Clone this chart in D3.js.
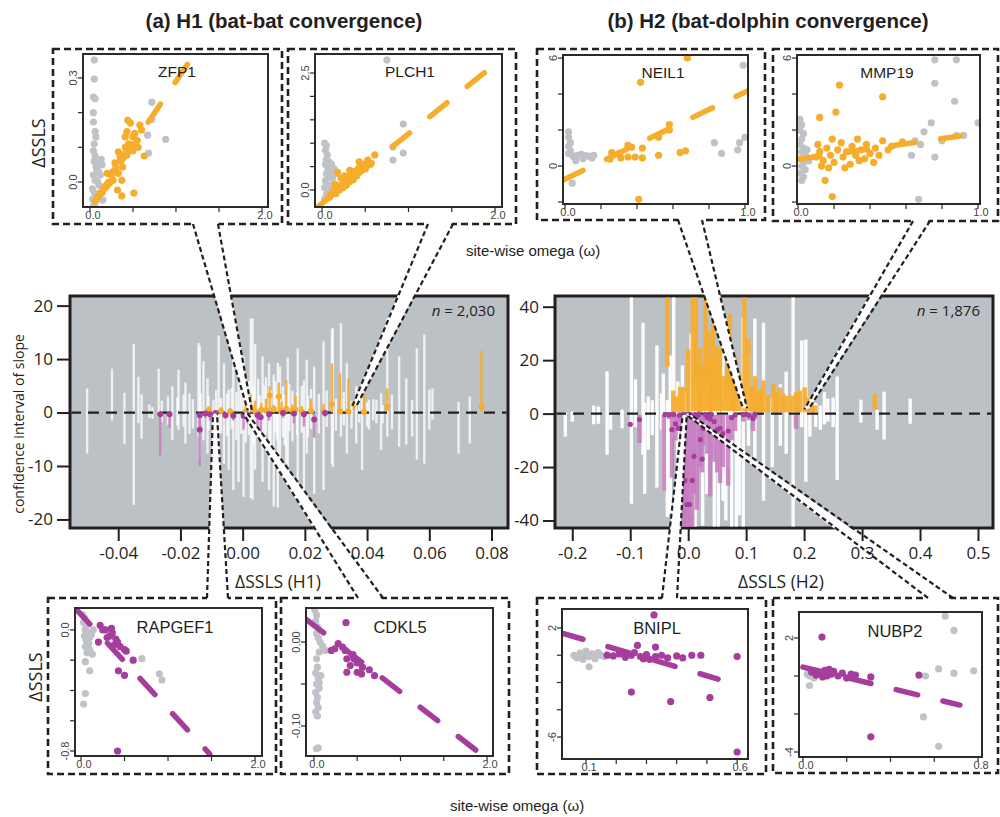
<!DOCTYPE html>
<html>
<head>
<meta charset="utf-8">
<script src="https://cdn.jsdelivr.net/npm/d3@7"></script>
<style>
  body { margin: 0; background: #fff; }
  svg { display: block; }
</style>
</head>
<body>
<svg id="viz" width="1000" height="817"></svg>
<script>
// ---------- main panels: [ΔSSLS, CI low, CI high] and coloured ones [ΔSSLS, low, high, slope] ----------
var h1White = [
  [-0.050,-7.7,4.5],[-0.042,-1.5,8.2],[-0.038,-5.9,3.7],[-0.035,-17.3,12.8],[-0.0335,-2,6.7],
  [-0.0325,-4.9,3.4],[-0.030,-1,1.5],[-0.027,-0.8,8.2],[-0.024,-2.3,3],[-0.0226,-5.1,4.9],
  [-0.0206,-3.2,8],[-0.0184,-5.8,5.6],[-0.0171,-4,3.6],[-0.0142,-4.5,13],[-0.0138,-8.5,12.5],
  [-0.0126,-5.2,9.6],[-0.0113,-7.7,6.4],[-0.0094,-13,2.4],[-0.0077,-11.5,14.4],[-0.006,-9.6,9.2],
  [-0.0045,-10.7,4.3],[-0.003,-14.5,14.4],[-0.0013,-13,6.2],[0.0003,-15.8,10.5],[0.0026,-16,17.6],
  [0.0032,-16.3,17.6],[0.004,-10.7,12.8],[0.0064,-13,10.5],[0.0085,-14.5,9.2],[0.010,-17.6,7.1],
  [0.0113,-17.8,9.3],[0.012,-10.7,8.6],[0.014,-9.6,5.4],[0.0145,-10.3,10.3],[0.0177,-12.8,12],
  [0.0197,-15.2,6],[0.0206,-7.7,9.9],[0.023,-15.2,8.6],[0.026,-14.5,13.3],[0.0287,-9.6,15.6],
  [0.029,-10.2,15.8],[0.0316,-4.5,16.7],[0.0335,-7.7,9.2],[0.0365,-5.8,4.9],[0.0384,-10.7,5.4],
  [0.0406,-3.2,2.4],[0.043,-2,2.4],[0.0445,-7,3.6],[0.0465,-4.5,17.6],[0.048,-3.2,3.4],
  [0.0503,-6.4,10.5],[0.0526,-6,6.4],[0.0545,-4.5,2.4],[0.056,-8.8,12],[0.0584,-9.6,14.6],
  [0.060,-3.2,4.3],[0.061,-1.3,4.5],[0.0694,-7.7,2],[0.073,-5.8,3],
  [-0.029,-1.2,1.0],[-0.026,-1.8,2.2],[-0.021,-2.4,2.8],[-0.019,-2.6,3.4],[-0.016,-3,2.5],
  [-0.0135,-2.2,3.6],[-0.011,-3.4,3.1],[-0.0085,-2.8,4.2],[-0.007,-3.9,2.7],[-0.005,-4.4,3.5],
  [-0.0035,-3.1,4.6],[-0.002,-5.2,3.8],[-0.0005,-4,5.4],[0.001,-5.6,4.4],[0.002,-4.2,5.9],
  [0.0035,-6.2,4.8],[0.005,-4.9,6.3],[0.0055,-3.6,3.2],[0.007,-5.8,5.1],[0.0075,-4.1,6.6],
  [0.009,-6.5,4.2],[0.0105,-3.8,5.8],[0.011,-5.2,3.6],[0.013,-4.6,4.9],[0.0135,-6.1,3.3],
  [0.015,-3.5,5.4],[0.016,-5.4,4.1],[0.0175,-4.2,3.7],[0.019,-3.8,5.0],[0.021,-4.6,3.2],
  [0.022,-3.1,4.4],[0.0245,-3.9,3.5],[0.027,-2.7,4.1],[0.030,-3.4,2.6],[0.0325,-2.4,3.8],
  [0.035,-3.0,2.2],[0.0375,-1.9,2.8],[0.040,-2.6,1.9],[0.042,-1.5,2.5],[0.045,-2.0,1.4]
];
var h1Pos = [
  [0.0768,0.2,11.6,1.1],[0.0465,0.3,4.5,1.1],[0.039,0,3.6,0.1],[0.0358,0.5,2.2,1.5],
  [0.034,0,6.4,0.2],[0.0313,0,7.3,0.2],[0.0287,0,9.2,1.5],[0.026,0,1.6,0.2],[0.022,0,2.6,0.3],
  [0.017,0,3.2,0.5],[0.014,0,6,0.7],[0.0116,0,5.6,3],[0.0087,0,4.9,3.2],[0.0026,0,3.4,1],
  [-0.011,0,1.2,0.4],[0.004,0,2.2,0.3],[0.006,0,1.8,0.5],[0.0075,0,2.6,0.4],[0.010,0,1.4,0.6],
  [0.0125,0,2.0,0.3],[0.016,0,1.5,0.4],[0.019,0,1.2,0.2],[0.001,0,1.5,0.2],[-0.004,0,0.8,0.2],
  [-0.007,0,1.0,0.3]
];
var h1Neg = [
  [-0.0265,-8,0,-0.3],[-0.0235,-2.8,0,-0.3],[-0.0138,-10,-0.2,-0.5],[-0.0138,-3.5,-0.2,-3.2],
  [-0.0087,-4.5,0,-0.1],[-0.0055,-1.2,0,-0.5],[-0.003,-1.5,0,-0.6],[0.0003,-3.2,0,-0.6],
  [0.0015,-2.0,0,-0.4],[0.0048,-2.5,0,-0.5],[0.0058,-5,0,-0.9],[0.0085,-1.5,0,-0.3],
  [0.013,-1,0,-0.1],[0.0165,-2,0,-0.2],[0.0197,-2.6,0,-0.3],[0.023,-4.7,0,-1.3],
  [0.0265,-0.8,0,-0.1],[-0.012,-1.0,0,-0.2],[-0.0105,-1.5,0,-0.3]
];
var h1XTicks = [-0.04,-0.02,0,0.02,0.04,0.06,0.08];
var h1YTicks = [-20,-10,0,10,20];

var h2White = [
  [-0.212,-8.6,0.5],[-0.2,-3,0.8],[-0.163,-4,3],[-0.155,-3.8,2.6],[-0.14,-15.4,15.8],
  [-0.134,-6,0.6],[-0.114,-5.5,1.5],[-0.098,-33.7,45],[-0.091,-5,12.8],[-0.078,-15.4,34],
  [-0.075,-30,4],[-0.069,-13.5,6.4],[-0.062,-8,5],[-0.054,-27.7,25.5],[-0.046,-6,7.5],
  [-0.043,-29,15],[-0.036,-38.6,5],[-0.031,-37.6,21.7],[-0.025,-9,45],[-0.018,-20,12],
  [-0.01,-30,18],[-0.005,-14,8],[0.005,-38,30],[0.012,-45,12],[0.025,-42,8],[0.032,-30,12],
  [0.045,-45,6],[0.052,-45,3],[0.06,-32.6,24.7],[0.065,-40,5],[0.07,-20,10],[0.075,-45,2],
  [0.083,-45,4],[0.088,-38,6],[0.095,-45,36],[0.104,-12,22],[0.115,-16.5,35.6],[0.13,-32.6,34],
  [0.145,-20,6],[0.159,-12,11],[0.169,-15,15.7],[0.181,-45,45],[0.196,-5,27.4],
  [0.203,-25.5,27.7],[0.21,-8.6,6.4],[0.22,-5,4],[0.228,-6,3],[0.235,-4,8],[0.241,-3,5.6],
  [0.25,-5,6],[0.257,-24.8,13.9],[0.298,-3.4,5.2],[0.326,-6,1.5],[0.338,-9.7,8.2],[0.383,-3.8,5.6]
];
var h2Pos = [
  [-0.036,18.5,45,18.5],[-0.026,0.5,8.6],[-0.02,0.5,6.4],[-0.014,0.5,10],[-0.008,0.5,10],
  [0.0,0.8,24],[0.008,1,45],[0.013,1,45],[0.018,1,18.7],[0.021,0.5,24.7],[0.026,1,18],
  [0.03,1,45],[0.035,1,31],[0.039,1,20],[0.043,1,38.6],[0.048,1,25],[0.055,1,24.7],
  [0.06,1,14],[0.067,1,18.7],[0.072,1,37.5],[0.078,1,15],[0.081,1,21],[0.088,1,15],
  [0.097,1,45],[0.104,1,28],[0.11,1,10],[0.115,0.5,14],[0.119,0.5,8.6],[0.125,0.5,9],
  [0.13,0.5,12.4],[0.138,0.5,7],[0.147,0.5,11],[0.153,0.5,8],[0.158,0.5,9.8],
  [0.164,0.5,7.5],[0.17,0.5,6.7],[0.179,0.5,6.7],[0.186,0.5,8],[0.193,0.5,8.6],
  [0.201,0.5,9.8],[0.207,0.5,6],[0.213,0.5,6.7],[0.219,0.5,3],[0.322,1.5,7.5]
];
var h2Neg = [
  [-0.1,-4.5,-3.5,-4],[-0.084,-11,-0.5,-2.2],[-0.042,-29,-0.5],[-0.028,-24,-0.5,-6],
  [-0.022,-10,-0.5,-3.8],[-0.017,-6.5,-0.5,-5.5],[-0.01,-45,-0.5,-17],[-0.006,-45,-0.5,-25],
  [-0.002,-45,-0.5,-34],[0.002,-45,-0.5,-34],[0.007,-45,-0.5,-25],[0.01,-30,-0.5,-16],
  [0.015,-36,-0.5,-1],[0.021,-20,-0.5,-9.7],[0.024,-22,-0.5,-17],[0.026,-12,-0.5,-5.5],
  [0.033,-15,-0.5,-1.5],[0.038,-31,-0.5,-2],[0.045,-18,-0.5,-3],[0.05,-22,-0.5,-6],
  [0.055,-26,-0.5,-5.5],[0.06,-20,-0.5,-7.5],[0.069,-27,-0.5,-6.5],[0.075,-10,-0.5,-1.5],
  [0.081,-6.5,-0.5,-0.5],[0.095,-3,-0.5,-0.3],[0.112,-6.5,-0.5,-1.8],[0.115,-2,-0.5,-0.3],
  [0.186,-5.7,-0.5],
  [-0.04,-1.2,-0.3,-0.4],[-0.033,-2,-0.3,-0.5],[-0.025,-1.5,-0.3,-0.3],[-0.015,-3,-0.3,-0.6],
  [-0.008,-2,-0.3,-0.4],[0.0,-2.5,-0.3,-0.3],[0.005,-1.8,-0.3,-0.5],[0.012,-2.2,-0.3,-0.4],
  [0.018,-1.5,-0.3,-0.3],[0.03,-2,-0.3,-0.4],[0.04,-1.2,-0.3,-0.3],[0.1,-1.0,-0.3,-0.2],
  [0.105,-2.5,-0.3,-0.6]
];
var h2XTicks = [-0.2,-0.1,0,0.1,0.2,0.3,0.4,0.5];
var h2YTicks = [-40,-20,0,20,40];

// ---------- insets: site-wise omega vs ΔSSLS ----------
var zfp1Bg = [[0.05,0.352],[0.05,0.297],[0.04,0.245],[0.06,0.24],[0.04,0.2],[0.04,0.173],[0.06,0.145],
  [0.07,0.13],[0.05,0.11],[0.04,0.09],[0.06,0.075],[0.05,0.06],[0.07,0.045],[0.08,0.035],[0.1,0.03],
  [0.12,0.02],[0.04,0.02],[0.06,0.005],[0.09,0.0],[0.11,-0.01],[0.03,-0.02],[0.05,-0.03],[0.08,-0.04],
  [0.03,-0.05],[0.06,-0.06],[0.04,-0.07],[0.15,-0.052],[0.72,0.23],[0.72,0.18],[0.67,0.135],
  [0.88,0.123],[0.68,0.083],[0.14,0.05],[0.13,0.065],[0.1,0.055]];
var zfp1Sig = [[0.44,0.178],[0.43,0.145],[0.47,0.17],[0.58,0.164],[0.6,0.15],[0.55,0.12],[0.41,0.1],
  [0.35,0.073],[0.63,0.075],[0.27,0.03],[0.2,0.025],[0.23,-0.002],[0.37,0.005],[0.32,-0.023],
  [0.37,-0.04],[0.51,-0.032],[0.12,-0.033],[0.29,0.055],[0.33,0.087],[0.41,0.13],[0.47,0.1],
  [0.43,0.078],[0.38,0.043],[0.33,0.025],[0.27,0.005],[0.2,-0.01],[0.16,-0.02],[0.1,-0.04],
  [0.5,0.09],[0.56,0.1],[0.08,-0.05],[0.14,-0.03],[0.18,-0.015],[0.22,0.0],[0.25,0.02],[0.3,0.04],
  [0.35,0.06],[0.4,0.08],[0.45,0.11],[0.5,0.13],[0.52,0.14]];
var zfp1Fit = [[0.05,-0.057],[1.16,0.349]];

var plch1Bg = [[0.75,2.78],[0.94,1.41],[0.82,0.92],[0.94,0.79],[0.82,0.64],[0.03,1.0],[0.05,0.95],
  [0.04,0.85],[0.06,0.75],[0.05,0.65],[0.08,0.6],[0.04,0.55],[0.07,0.45],[0.1,0.4],[0.05,0.35],
  [0.09,0.3],[0.12,0.25],[0.04,0.2],[0.06,0.12],[0.1,0.1],[0.03,0.05],[0.07,-0.02],[0.05,-0.1],
  [0.09,-0.15],[0.03,-0.2],[0.11,0.55],[0.14,0.45],[0.16,0.35]];
var plch1Sig = [[0.08,-0.15],[0.1,-0.1],[0.12,-0.05],[0.14,0.0],[0.16,-0.08],[0.18,0.05],[0.2,0.0],
  [0.22,0.1],[0.24,0.05],[0.25,0.15],[0.27,0.2],[0.28,0.1],[0.3,0.25],[0.32,0.18],[0.33,0.3],
  [0.35,0.35],[0.36,0.22],[0.38,0.4],[0.4,0.3],[0.42,0.45],[0.43,0.6],[0.45,0.5],[0.48,0.55],
  [0.5,0.45],[0.53,0.64],[0.56,0.55],[0.61,0.75],[0.18,0.38],[0.32,0.42],[0.15,0.12],[0.22,0.25],
  [0.26,0.3]];
var plch1Fit = [[-0.05,-0.36],[1.94,2.6]];

var neil1Bg = [[0.02,1.9],[0.02,1.6],[0.03,1.3],[0.02,1.1],[0.03,0.85],[0.04,0.6],[0.02,0.7],[0.05,0.5],
  [0.07,0.6],[0.09,0.65],[0.11,0.6],[0.13,0.55],[0.15,0.45],[0.16,0.6],[0.04,-0.95],[0.83,1.3],
  [0.87,0.7],[0.97,1.3],[1.0,1.6],[0.96,0.9],[0.99,5.6],[0.06,0.3],[0.1,0.4]];
var neil1Sig = [[0.68,6.0],[0.42,4.65],[0.41,-1.85],[0.26,0.74],[0.25,0.38],[0.3,0.7],[0.35,1.15],
  [0.37,1.05],[0.35,0.5],[0.43,1.0],[0.43,0.45],[0.52,1.6],[0.52,0.6],[0.58,2.3],[0.58,2.0],
  [0.64,0.75],[0.67,0.85],[0.31,0.45],[0.39,0.5]];
var neil1Fit = [[-0.01,-0.78],[1.02,4.2]];

var mmp19Bg = [[0.01,2.6],[0.02,2.3],[0.01,2.0],[0.03,1.8],[0.02,1.5],[0.01,1.2],[0.03,1.0],[0.02,0.8],
  [0.04,0.6],[0.01,0.4],[0.03,0.2],[0.02,0.0],[0.04,-0.2],[0.01,-0.4],[0.03,-0.6],[0.02,-0.8],
  [0.05,0.9],[0.06,0.3],[0.76,5.9],[0.88,5.9],[0.76,4.6],[0.87,3.6],[1.0,2.4],[0.92,1.7],[0.88,1.7],
  [0.8,1.4],[0.74,2.4],[0.7,1.9],[0.63,0.6],[0.76,0.5],[0.67,-1.85],[0.65,1.4],[0.68,1.2]];
var mmp19Sig = [[0.23,4.5],[0.47,3.85],[0.12,2.7],[0.21,3.0],[0.15,-0.8],[0.19,-1.7],[0.58,1.35],
  [0.1,0.5],[0.12,0.8],[0.14,0.3],[0.16,1.0],[0.18,0.6],[0.19,1.5],[0.2,0.2],[0.22,0.9],[0.24,1.3],
  [0.25,0.5],[0.27,0.8],[0.29,0.1],[0.3,1.1],[0.32,0.6],[0.33,1.5],[0.35,0.9],[0.37,0.4],[0.38,1.2],
  [0.4,0.7],[0.42,0.2],[0.43,1.0],[0.45,0.6],[0.47,1.4],[0.5,0.9],[0.52,1.1],[0.11,1.2],[0.13,0.0],
  [0.17,-0.1],[0.26,-0.1],[0.34,0.3]];
var mmp19Fit = [[0.0,0.38],[0.9,1.67]];

var rapgef1Bg = [[0.02,0.1],[0.04,0.08],[0.03,0.05],[0.06,0.03],[0.05,0.0],[0.08,-0.02],[0.04,-0.04],
  [0.1,-0.05],[0.06,-0.07],[0.09,-0.09],[0.05,-0.11],[0.1,-0.13],[0.07,-0.15],[0.12,-0.03],[0.14,0.0],
  [0.05,-0.21],[0.1,-0.27],[0.05,-0.42],[0.03,-0.49],[0.7,-0.19],[0.9,-0.29],[0.93,-0.33],[0.13,-0.16]];
var rapgef1Sig = [[0.22,0.03],[0.25,0.0],[0.33,-0.04],[0.36,-0.02],[0.4,-0.06],[0.42,-0.08],[0.5,-0.13],
  [0.52,-0.14],[0.6,-0.2],[0.43,-0.27],[0.5,-0.3],[0.42,-0.8],[0.2,-0.08],[0.38,-0.1],[0.3,-0.05],
  [0.45,-0.11],[0.28,0.0],[0.35,0.01]];
var rapgef1Fit = [[-0.07,0.146],[1.48,-0.82]];

var cdkl5Bg = [[0.01,0.038],[0.03,0.032],[0.02,0.025],[0.04,0.018],[0.03,0.01],[0.05,0.005],[0.07,0.0],
  [0.1,-0.005],[0.13,-0.01],[0.06,-0.012],[0.03,-0.02],[0.04,-0.03],[0.02,-0.037],[0.05,-0.043],
  [0.03,-0.05],[0.06,-0.055],[0.02,-0.06],[0.04,-0.066],[0.03,-0.072],[0.05,-0.078],[0.02,-0.083],
  [0.04,-0.088],[0.06,-0.048],[0.08,-0.04],[0.03,-0.127],[0.05,-0.126]];
var cdkl5Sig = [[0.37,0.023],[0.2,-0.01],[0.28,-0.002],[0.36,-0.01],[0.38,-0.02],[0.45,-0.015],
  [0.5,-0.025],[0.38,-0.036],[0.5,-0.036],[0.56,-0.03],[0.64,-0.033],[0.7,-0.04],[0.42,-0.028],
  [0.33,-0.006],[0.46,-0.02],[0.55,-0.038],[0.24,-0.008]];
var cdkl5Fit = [[-0.09,0.027],[1.9,-0.131]];

var bniplBg = [[0.06,0.0],[0.07,-0.2],[0.08,0.15],[0.09,0.0],[0.1,0.3],[0.11,-0.1],[0.12,0.1],
  [0.13,-0.25],[0.14,0.2],[0.15,0.0],[0.16,-0.1],[0.17,0.05],[0.11,-0.85],[0.1,0.15],[0.09,-0.3]];
var bniplSig = [[0.325,2.96],[0.27,0.72],[0.33,0.6],[0.17,0.0],[0.19,-0.05],[0.21,0.1],[0.23,-0.15],
  [0.25,0.0],[0.26,0.2],[0.28,-0.1],[0.3,0.05],[0.31,-0.3],[0.33,-0.1],[0.35,0.0],[0.37,-0.2],
  [0.4,-0.05],[0.42,-0.2],[0.45,0.0],[0.48,0.0],[0.6,-0.1],[0.25,-2.7],[0.38,-3.4],[0.51,-3.1],
  [0.6,-7.1],[0.22,0.15],[0.29,-0.25]];
var bniplFit = [[0.02,1.63],[0.537,-1.75]];

var nubp2Bg = [[0.65,3.15],[0.69,2.4],[0.62,0.37],[0.69,0.15],[0.78,0.27],[0.56,0.0],[0.55,-2.15],
  [0.62,-3.7],[0.03,-0.5],[0.02,0.1],[0.04,0.3],[0.03,0.0],[0.06,0.2],[0.05,-0.1]];
var nubp2Sig = [[0.087,2.05],[0.31,-0.05],[0.31,-3.2],[0.53,0.05],[0.04,0.2],[0.06,0.05],[0.08,0.15],
  [0.1,0.3],[0.11,0.0],[0.13,0.1],[0.14,0.25],[0.16,0.0],[0.18,0.15],[0.2,-0.1],[0.22,0.1],
  [0.24,0.05],[0.12,0.35],[0.09,-0.05]];
var nubp2Fit = [[0.0,0.47],[0.717,-1.53]];

// ---------- styles ----------
var ORANGE = "#f6ad2c", PURPLE = "#a63d9c", PURPLE_BAR = "#c67bbf",
    GREY_PT = "#bfc3c8", PANEL_BG = "#bcc1c6", INK = "#231f20";
var SANS = "'Open Sans', sans-serif", ARIAL = "'Liberation Sans', Arial, sans-serif";

var svg = d3.select("#viz");
var defs = svg.append("defs");
var layerBg = svg.append("g");
var layerData = svg.append("g");
var layerBox = svg.append("g");
var layerCone = svg.append("g");
var layerTop = svg.append("g");

// ---------- main panels ----------
var panels = [
  {id:"h1", x0:70, x1:508, y0:296, y1:528, xdom:[-0.0555,0.0853], ydom:[-21.6,21.8],
   white:h1White, pos:h1Pos, neg:h1Neg, xticks:h1XTicks, yticks:h1YTicks, dec:2,
   n:"2,030", label:"ΔSSLS (H1)", labelX:278, barW:2.4, colW:2.4, whiteOp:0.75, r:3, tick:13},
  {id:"h2", x0:555, x1:993, y0:296, y1:528, xdom:[-0.2298,0.5259], ydom:[-42.8,44],
   white:h2White, pos:h2Pos, neg:h2Neg, xticks:h2XTicks, yticks:h2YTicks, dec:1,
   n:"1,876", label:"ΔSSLS (H2)", labelX:781, barW:3.4, colW:4.4, whiteOp:0.95, r:2.6, tick:12}
];

panels.forEach(function(p){
  p.xs = d3.scaleLinear().domain(p.xdom).range([p.x0, p.x1]);
  p.ys = d3.scaleLinear().domain(p.ydom).range([p.y1, p.y0]);

  layerBg.append("rect")
    .attr("x", p.x0).attr("y", p.y0)
    .attr("width", p.x1 - p.x0).attr("height", p.y1 - p.y0)
    .attr("fill", PANEL_BG).attr("stroke", INK).attr("stroke-width", 3);

  defs.append("clipPath").attr("id", "clip-" + p.id).append("rect")
    .attr("x", p.x0 + 1.5).attr("y", p.y0 + 1.5)
    .attr("width", p.x1 - p.x0 - 3).attr("height", p.y1 - p.y0 - 3);

  var g = layerData.append("g").attr("clip-path", "url(#clip-" + p.id + ")");

  g.selectAll(".wbar").data(p.white).enter().append("rect")
    .attr("x", d => p.xs(d[0]) - p.barW / 2)
    .attr("width", p.barW)
    .attr("y", d => p.ys(d[2]))
    .attr("height", d => p.ys(d[1]) - p.ys(d[2]))
    .attr("fill", "#fff").attr("fill-opacity", p.whiteOp);

  g.append("line")
    .attr("x1", p.x0).attr("x2", p.x1)
    .attr("y1", p.ys(0)).attr("y2", p.ys(0))
    .attr("stroke", INK).attr("stroke-width", 2.2)
    .attr("stroke-dasharray", "11,7");

  g.selectAll(".pbar").data(p.pos).enter().append("rect")
    .attr("x", d => p.xs(d[0]) - p.colW / 2)
    .attr("width", p.colW)
    .attr("y", d => p.ys(d[2]))
    .attr("height", d => p.ys(d[1]) - p.ys(d[2]))
    .attr("fill", ORANGE).attr("fill-opacity", 0.92);

  g.selectAll(".nbar").data(p.neg).enter().append("rect")
    .attr("x", d => p.xs(d[0]) - p.colW / 2)
    .attr("width", p.colW)
    .attr("y", d => p.ys(d[2]))
    .attr("height", d => p.ys(d[1]) - p.ys(d[2]))
    .attr("fill", PURPLE_BAR).attr("fill-opacity", 0.85);

  g.selectAll(".ppt").data(p.pos.filter(d => d.length > 3)).enter().append("circle")
    .attr("cx", d => p.xs(d[0])).attr("cy", d => p.ys(d[3]))
    .attr("r", p.r).attr("fill", ORANGE);

  g.selectAll(".npt").data(p.neg.filter(d => d.length > 3)).enter().append("circle")
    .attr("cx", d => p.xs(d[0])).attr("cy", d => p.ys(d[3]))
    .attr("r", p.r).attr("fill", PURPLE);

  // axes
  var ya = layerTop.append("g").attr("transform", "translate(" + p.x0 + ",0)")
    .call(d3.axisLeft(p.ys).tickValues(p.yticks).tickSize(p.tick).tickPadding(4).tickFormat(d => String(d)));
  var xa = layerTop.append("g").attr("transform", "translate(0," + (p.y1 + 1) + ")")
    .call(d3.axisBottom(p.xs).tickValues(p.xticks).tickSize(12).tickPadding(6).tickFormat(d => d.toFixed(p.dec)));
  [ya, xa].forEach(function(a){
    a.select(".domain").remove();
    a.selectAll(".tick line").attr("stroke", INK).attr("stroke-width", 2);
    a.selectAll(".tick text").attr("fill", INK).style("font-family", SANS).style("font-size", "17px");
  });

  layerTop.append("text")
    .attr("x", p.labelX).attr("y", 588)
    .attr("text-anchor", "middle")
    .style("font-family", SANS).style("font-size", "17.5px").attr("fill", INK)
    .text(p.label);

  var nt = layerTop.append("text")
    .attr("x", p.x1 - 13).attr("y", p.y0 + 20)
    .attr("text-anchor", "end")
    .style("font-family", SANS).style("font-size", "15px").attr("fill", INK);
  nt.append("tspan").style("font-style", "italic").text("n");
  nt.append("tspan").text(" = " + p.n);
});

// ---------- insets ----------
var insets = [
  {gene:"ZFP1", box:[53,49,282,224], plot:[83,54,268,207], xdom:[-0.081,2.07], ydom:[-0.072,0.369],
   xticks:[0,0.5,1,1.5,2], xlabels:[[0,"0.0"],[2,"2.0"]], yticks:[0,0.1,0.2,0.3], ylabels:[[0,"0.0"],[0.3,"0.3"]],
   bg:zfp1Bg, sig:zfp1Sig, fit:zfp1Fit, col:ORANGE, titleX:177, titleSize:15.5},
  {gene:"PLCH1", box:[288,49,516,224], plot:[315,54,502,207], xdom:[-0.081,2.081], ydom:[-0.363,2.906],
   xticks:[0,0.5,1,1.5,2], xlabels:[[0,"0.0"],[2,"2.0"]], yticks:[0,0.5,1,1.5,2,2.5], ylabels:[[0,"0.0"],[2.5,"2.5"]],
   bg:plch1Bg, sig:plch1Sig, fit:plch1Fit, col:ORANGE, titleX:410, titleSize:15.5},
  {gene:"NEIL1", box:[537,49,765,220], plot:[563,55,748,204], xdom:[-0.011,1.017], ydom:[-2.11,6.17],
   xticks:[0,0.2,0.4,0.6,0.8,1], xlabels:[[0,"0.0"],[1,"1.0"]], yticks:[-2,0,2,4,6], ylabels:[[0,"0"],[6,"6"]],
   bg:neil1Bg, sig:neil1Sig, fit:neil1Fit, col:ORANGE, titleX:663, titleSize:15.5},
  {gene:"MMP19", box:[773,49,998,221], plot:[797,55,980,204], xdom:[-0.006,1.011], ydom:[-2.11,6.17],
   xticks:[0,0.2,0.4,0.6,0.8,1], xlabels:[[0,"0.0"],[1,"1.0"]], yticks:[-2,0,2,4,6], ylabels:[[0,"0"],[6,"6"]],
   bg:mmp19Bg, sig:mmp19Sig, fit:mmp19Fit, col:ORANGE, titleX:887, titleSize:15.5},
  {gene:"RAPGEF1", box:[48,598,276,774], plot:[75,608,262,756], xdom:[-0.069,2.08], ydom:[-0.833,0.145],
   xticks:[0,0.5,1,1.5,2], xlabels:[[0,"0.0"],[2,"2.0"]], yticks:[0,-0.2,-0.4,-0.6,-0.8], ylabels:[[0,"0.0"],[-0.8,"-0.8"]],
   bg:rapgef1Bg, sig:rapgef1Sig, fit:rapgef1Fit, col:PURPLE, titleX:175, titleSize:16.5},
  {gene:"CDKL5", box:[281,598,509,774], plot:[306,608,493,756], xdom:[-0.092,2.069], ydom:[-0.1357,0.0405],
   xticks:[0,0.5,1,1.5,2], xlabels:[[0,"0.0"],[2,"2.0"]], yticks:[0,-0.05,-0.1], ylabels:[[0,"0.00"],[-0.1,"-0.10"]],
   bg:cdkl5Bg, sig:cdkl5Sig, fit:cdkl5Fit, col:PURPLE, titleX:400, titleSize:16.5},
  {gene:"BNIPL", box:[537,598,766,774], plot:[562,609,748,759], xdom:[0.0205,0.636], ydom:[-7.615,3.394],
   xticks:[0.1,0.2,0.3,0.4,0.5,0.6], xlabels:[[0.1,"0.1"],[0.6,"0.6"]], yticks:[2,0,-2,-4,-6], ylabels:[[2,"2"],[-6,"-6"]],
   bg:bniplBg, sig:bniplSig, fit:bniplFit, col:PURPLE, titleX:657, titleSize:16.5},
  {gene:"NUBP2", box:[773,598,998,773], plot:[799,612,982,757], xdom:[-0.018,0.818], ydom:[-4.263,3.368],
   xticks:[0,0.2,0.4,0.6,0.8], xlabels:[[0,"0.0"],[0.8,"0.8"]], yticks:[2,0,-2,-4], ylabels:[[2,"2"],[-4,"-4"]],
   bg:nubp2Bg, sig:nubp2Sig, fit:nubp2Fit, col:PURPLE, titleX:895, titleSize:16.5}
];

insets.forEach(function(s, i){
  var xs = d3.scaleLinear().domain(s.xdom).range([s.plot[0], s.plot[2]]);
  var ys = d3.scaleLinear().domain(s.ydom).range([s.plot[3], s.plot[1]]);
  var top = s.plot[1] < 300;

  layerBox.append("rect")
    .attr("x", s.box[0]).attr("y", s.box[1])
    .attr("width", s.box[2] - s.box[0]).attr("height", s.box[3] - s.box[1])
    .attr("fill", "none").attr("stroke", INK).attr("stroke-width", 2.6)
    .attr("stroke-dasharray", "7,4");

  defs.append("clipPath").attr("id", "iclip" + i).append("rect")
    .attr("x", s.plot[0]).attr("y", s.plot[1])
    .attr("width", s.plot[2] - s.plot[0]).attr("height", s.plot[3] - s.plot[1]);

  var g = layerBox.append("g").attr("clip-path", "url(#iclip" + i + ")");

  g.selectAll(".bg").data(s.bg).enter().append("circle")
    .attr("cx", d => xs(d[0])).attr("cy", d => ys(d[1]))
    .attr("r", 3.6).attr("fill", GREY_PT);

  g.selectAll(".sig").data(s.sig).enter().append("circle")
    .attr("cx", d => xs(d[0])).attr("cy", d => ys(d[1]))
    .attr("r", 3.6).attr("fill", s.col);

  g.append("line")
    .attr("x1", xs(s.fit[0][0])).attr("y1", ys(s.fit[0][1]))
    .attr("x2", xs(s.fit[1][0])).attr("y2", ys(s.fit[1][1]))
    .attr("stroke", s.col).attr("stroke-width", 5.5)
    .attr("stroke-linecap", "round").attr("stroke-dasharray", "22,26");

  layerBox.append("rect")
    .attr("x", s.plot[0]).attr("y", s.plot[1])
    .attr("width", s.plot[2] - s.plot[0]).attr("height", s.plot[3] - s.plot[1])
    .attr("fill", "none").attr("stroke", "#2b2b2b").attr("stroke-width", 2);

  // ticks
  s.xticks.forEach(function(t){
    layerBox.append("line")
      .attr("x1", xs(t)).attr("x2", xs(t))
      .attr("y1", s.plot[3]).attr("y2", s.plot[3] + 5)
      .attr("stroke", "#2b2b2b").attr("stroke-width", 1.2);
  });
  s.yticks.forEach(function(t){
    layerBox.append("line")
      .attr("x1", s.plot[0] - 5).attr("x2", s.plot[0])
      .attr("y1", ys(t)).attr("y2", ys(t))
      .attr("stroke", "#2b2b2b").attr("stroke-width", 1.2);
  });
  s.xlabels.forEach(function(l){
    layerBox.append("text")
      .attr("x", xs(l[0]) + 3).attr("y", s.plot[3] + 12)
      .attr("text-anchor", "middle")
      .style("font-family", ARIAL).style("font-size", "11px").attr("fill", "#444")
      .text(l[1]);
  });
  s.ylabels.forEach(function(l){
    layerBox.append("text")
      .attr("transform", "translate(" + (s.plot[0] - 6) + "," + ys(l[0]) + ") rotate(-90)")
      .attr("text-anchor", "middle")
      .style("font-family", ARIAL).style("font-size", "11px").attr("fill", "#444")
      .text(l[1]);
  });

  layerBox.append("text")
    .attr("x", s.titleX).attr("y", s.plot[1] + (top ? 23 : 25))
    .attr("text-anchor", "middle")
    .style("font-family", ARIAL).style("font-size", s.titleSize + "px").attr("fill", INK)
    .text(s.gene);
});

// ---------- zoom connectors (inset notch -> point in main panel) ----------
var links = [
  {panel:0, edge:224, notch:[193,218], at:[0.0023,0.4]},
  {panel:0, edge:224, notch:[428,453], at:[0.036,1.3]},
  {panel:1, edge:220, notch:[678,702], at:[0.098,2.0]},
  {panel:1, edge:221, notch:[913,930], at:[0.204,1.6]},
  {panel:0, edge:598, notch:[207,228], at:[-0.0089,-0.2]},
  {panel:0, edge:598, notch:[358,383], at:[0.0007,0]},
  {panel:1, edge:598, notch:[662,677], at:[-0.006,-0.3]},
  {panel:1, edge:598, notch:[928,953], at:[-0.002,0]}
];

links.forEach(function(l){
  var p = panels[l.panel];
  var fx = p.xs(l.at[0]), fy = p.ys(l.at[1]);
  var e = l.edge < fy ? l.edge - 3 : l.edge + 3;
  var poly = [[l.notch[0], e], [l.notch[1], e], [fx + 2, fy], [fx - 2, fy]];
  layerCone.append("path")
    .attr("d", d3.line()(poly) + "Z")
    .attr("fill", "#fff");
  [[l.notch[0], fx - 2], [l.notch[1], fx + 2]].forEach(function(pair){
    layerCone.append("line")
      .attr("x1", pair[0]).attr("y1", l.edge)
      .attr("x2", pair[1]).attr("y2", fy)
      .attr("stroke", INK).attr("stroke-width", 2.2)
      .attr("stroke-dasharray", "5,3");
  });
});

// ---------- titles and shared labels ----------
layerTop.append("text").attr("x", 284).attr("y", 28).attr("text-anchor", "middle")
  .style("font-family", ARIAL).style("font-weight", "bold").style("font-size", "20.5px").attr("fill", INK)
  .text("(a) H1 (bat-bat convergence)");
layerTop.append("text").attr("x", 768).attr("y", 28).attr("text-anchor", "middle")
  .style("font-family", ARIAL).style("font-weight", "bold").style("font-size", "20.5px").attr("fill", INK)
  .text("(b) H2 (bat-dolphin convergence)");

layerTop.append("text").attr("transform", "translate(45,143) rotate(-90)").attr("text-anchor", "middle")
  .style("font-family", SANS).style("font-size", "18px").attr("fill", INK).text("ΔSSLS");
layerTop.append("text").attr("transform", "translate(42,677) rotate(-90)").attr("text-anchor", "middle")
  .style("font-family", SANS).style("font-size", "18px").attr("fill", INK).text("ΔSSLS");

layerTop.append("text").attr("transform", "translate(24,424) rotate(-90)").attr("text-anchor", "middle")
  .style("font-family", SANS).style("font-size", "14px").attr("fill", INK).text("confidence interval of slope");

layerTop.append("text").attr("x", 533).attr("y", 256).attr("text-anchor", "middle")
  .style("font-family", ARIAL).style("font-size", "15px").attr("fill", INK).text("site-wise omega (ω)");
layerTop.append("text").attr("x", 517).attr("y", 811).attr("text-anchor", "middle")
  .style("font-family", ARIAL).style("font-size", "15px").attr("fill", INK).text("site-wise omega (ω)");
</script>
</body>
</html>
